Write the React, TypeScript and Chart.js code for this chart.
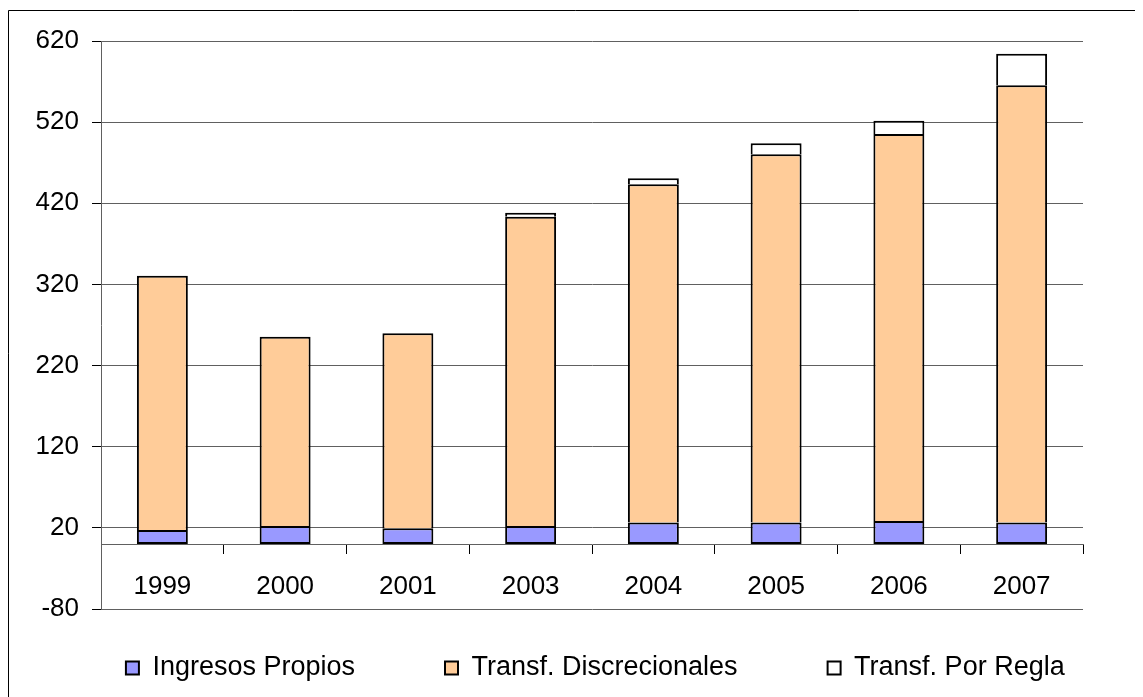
import React, { useEffect, useRef } from "react";
import { Chart, registerables } from "chart.js";

Chart.register(...registerables);

// Years on the category axis
const categories = ["1999", "2000", "2001", "2003", "2004", "2005", "2006", "2007"];

// Stacked components per year
const ingresosPropios = [17.5, 22.4, 19.6, 22.4, 26.5, 26.5, 28.6, 26.5];
const transfDiscrecionales = [313.3, 233.2, 240.2, 381.1, 416.9, 453.8, 476.8, 538.9];
const transfPorRegla = [null, null, null, 4.9, 7.4, 13.6, 16.4, 38.9];

// Value axis range and step
const yMin = -80;
const yMax = 620;
const yStep = 100;

const seriesNames = ["Ingresos Propios", "Transf. Discrecionales", "Transf. Por Regla"];

const FONT_FAMILY = "'Liberation Sans', Arial, Helvetica, sans-serif";
const LEGEND_TOP = 556.5;
const LEGEND_SHIFT = 19.8;

// Outer frame lines and the legend's placement below the plot
const framePlugin = {
  id: "frameAndLegend",
  afterLayout(chart: any) {
    const lg = chart.legend;
    if (lg) {
      lg.top = LEGEND_TOP;
      lg.bottom = chart.height;
      lg.left += LEGEND_SHIFT;
      lg.right += LEGEND_SHIFT;
    }
  },
  beforeDraw(chart: any) {
    const ctx = chart.ctx;
    ctx.save();
    ctx.fillStyle = "#ffffff";
    ctx.fillRect(0, 0, chart.width, chart.height);
    ctx.strokeStyle = "#000000";
    ctx.lineWidth = 1;
    ctx.beginPath();
    ctx.moveTo(0.5, chart.height);
    ctx.lineTo(0.5, 2.5);
    ctx.lineTo(chart.width, 2.5);
    ctx.stroke();
    ctx.restore();
  },
};

export default function App() {
  const canvasRef = useRef<HTMLCanvasElement | null>(null);

  useEffect(() => {
    if (!canvasRef.current) return;
    const chart = new Chart(canvasRef.current, {
      type: "bar",
      data: {
        labels: categories,
        datasets: [
          {
            label: seriesNames[0],
            data: ingresosPropios,
            backgroundColor: "#9999FF",
            borderColor: "#000000",
            borderWidth: 2,
            borderSkipped: false,
          },
          {
            label: seriesNames[1],
            data: transfDiscrecionales,
            backgroundColor: "#FFCC99",
            borderColor: "#000000",
            borderWidth: 2,
            borderSkipped: "start",
          },
          {
            label: seriesNames[2],
            data: transfPorRegla as any,
            backgroundColor: "#FFFFFF",
            borderColor: "#000000",
            borderWidth: 2,
            borderSkipped: "start",
          },
        ],
      },
      options: {
        responsive: false,
        animation: false,
        events: [],
        datasets: {
          bar: { categoryPercentage: 1, barPercentage: 0.415 },
        },
        layout: { padding: { left: 0, right: 0, top: 33, bottom: 0 } },
        plugins: {
          tooltip: { enabled: false },
          title: { display: false },
          legend: {
            display: true,
            position: "bottom",
            maxHeight: 88,
            labels: {
              boxWidth: 13,
              boxHeight: 13,
              padding: 90,
              color: "#000000",
              font: { family: FONT_FAMILY, size: 27 },
            },
          },
        },
        scales: {
          x: {
            stacked: true,
            position: { y: 0 } as any,
            offset: true,
            grid: {
              display: true,
              offset: true,
              drawOnChartArea: false,
              drawTicks: true,
              tickLength: 9,
              tickColor: "#000000",
            },
            border: { display: true, color: "#606060", width: 1 },
            ticks: {
              color: "#000000",
              padding: 18,
              maxRotation: 0,
              autoSkip: false,
              font: { family: FONT_FAMILY, size: 26 },
            },
          },
          y: {
            stacked: true,
            min: yMin,
            max: yMax,
            ticks: {
              stepSize: yStep,
              color: "#000000",
              padding: 13,
              font: { family: FONT_FAMILY, size: 26 },
            },
            grid: {
              color: "#606060",
              lineWidth: 1,
              tickColor: "#000000",
              tickLength: 9,
            },
            border: { display: true, color: "#606060", width: 1 },
            afterFit: (s: any) => {
              s.width = 93;
            },
          },
          yRight: {
            type: "linear",
            position: "right",
            display: true,
            grid: { display: false, drawTicks: false },
            border: { display: false },
            ticks: { display: false },
            afterFit: (s: any) => {
              s.width = 60;
            },
          },
        },
      },
      plugins: [framePlugin],
    });
    return () => chart.destroy();
  }, []);

  return (
    <div style={{ width: 1135, height: 689 }}>
      <canvas ref={canvasRef} width={1135} height={689} style={{ display: "block" }} />
    </div>
  );
}
